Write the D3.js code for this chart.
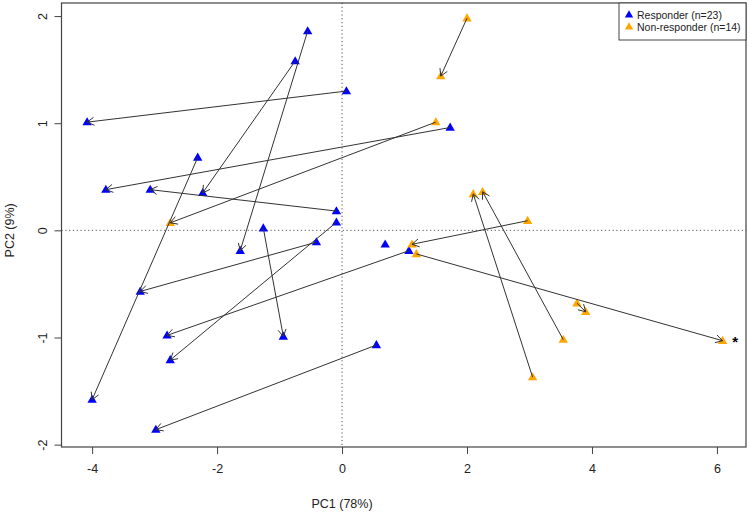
<!DOCTYPE html>
<html>
<head>
<meta charset="utf-8">
<script src="https://cdn.jsdelivr.net/npm/d3@7"></script>
<style>
  body { margin: 0; background: #fff; }
  svg { display: block; font-family: "Liberation Sans", Arial, sans-serif; }
</style>
</head>
<body>
<svg id="chart" width="750" height="514"></svg>
<script>
// Responder (n=23): arrows from first to second sample
const respFromX = [0.07, -0.55, -0.75, 1.73, -0.09, -2.31, -0.41, 1.07, -0.09, -1.26, 0.55];
const respFromY = [1.30, 1.86, 1.58, 0.96, 0.18, 0.68, -0.11, -0.19, 0.075, 0.02, -1.07];
const respToX   = [-4.08, -1.63, -2.23, -3.78, -3.07, -4.00, -3.23, -2.80, -2.75, -0.94, -2.98];
const respToY   = [1.01, -0.19, 0.35, 0.38, 0.38, -1.58, -0.57, -0.98, -1.21, -0.99, -1.86];
const respSingleX = [0.69];
const respSingleY = [-0.13];

// Non-responder (n=14)
const nonFromX = [2.00, 1.50, 2.97, 1.19, 3.05, 3.54, 3.76];
const nonFromY = [1.98, 1.01, 0.09, -0.22, -1.37, -1.02, -0.68];
const nonToX   = [1.58, -2.75, 1.12, 6.09, 2.10, 2.25, 3.90];
const nonToY   = [1.44, 0.07, -0.13, -1.03, 0.34, 0.36, -0.76];

// Marked sample
const starX = [6.29];
const starY = [-1.02];

const xTicks = [-4, -2, 0, 2, 4, 6];
const yTicks = [-2, -1, 0, 1, 2];
const legendLabels = ["Responder (n=23)", "Non-responder (n=14)"];
const colors = ["#0000ff", "#ffa500"];
const xTitle = "PC1 (78%)";
const yTitle = "PC2 (9%)";

const svg = d3.select("#chart");
const L = 61.5, R = 746, T = 3, B = 447;
const x = d3.scaleLinear().domain([-4.49, 6.465]).range([L, R]);
const y = d3.scaleLinear().domain([-2.022, 2.122]).range([B, T]);

// zero reference lines
const g = svg.append("g");
g.append("line").attr("x1", x(0)).attr("x2", x(0)).attr("y1", T).attr("y2", B)
  .attr("stroke", "#555").attr("stroke-dasharray", "1.2,2.6").attr("stroke-width", 1);
g.append("line").attr("x1", L).attr("x2", R).attr("y1", y(0)).attr("y2", y(0))
  .attr("stroke", "#555").attr("stroke-dasharray", "1.2,2.6").attr("stroke-width", 1);

// axes
const xAxis = d3.axisBottom(x).tickValues(xTicks).tickSize(7).tickPadding(10)
  .tickFormat(d => String(d));
const gx = svg.append("g").attr("transform", `translate(0,${B})`).call(xAxis);
gx.select(".domain").remove();
gx.selectAll("line").attr("stroke", "#444");
gx.selectAll("text").attr("font-size", 12.5).attr("fill", "#222")
  .attr("font-family", "Liberation Sans, Arial, sans-serif");

const yAxis = d3.axisLeft(y).tickValues(yTicks).tickSize(7).tickPadding(0)
  .tickFormat(d => String(d));
const gy = svg.append("g").attr("transform", `translate(${L},0)`).call(yAxis);
gy.select(".domain").remove();
gy.selectAll("line").attr("stroke", "#444");
gy.selectAll("text").attr("font-size", 12.5).attr("fill", "#222")
  .attr("font-family", "Liberation Sans, Arial, sans-serif")
  .attr("text-anchor", "middle")
  .attr("x", 0).attr("y", 0)
  .attr("transform", "translate(-19,0) rotate(-90)")
  .attr("dy", "0.35em");

// box
svg.append("rect").attr("x", L).attr("y", T).attr("width", R - L).attr("height", B - T)
  .attr("fill", "none").attr("stroke", "#444").attr("stroke-width", 1.2);

// titles
svg.append("text").attr("x", x(0)).attr("y", 508).attr("text-anchor", "middle")
  .attr("font-size", 12.5).attr("fill", "#222").text(xTitle);
svg.append("text").attr("transform", `translate(14,${y(0)}) rotate(-90)`)
  .attr("text-anchor", "middle").attr("font-size", 12.5).attr("fill", "#222").text(yTitle);

// points
const tri = d3.symbol().type(d3.symbolTriangle).size(38);
function drawPts(xs, ys, col) {
  svg.append("g").selectAll("path").data(xs.map((v, i) => [v, ys[i]])).join("path")
    .attr("d", tri)
    .attr("transform", d => `translate(${x(d[0])},${y(d[1]) + 0.5})`)
    .attr("fill", col);
}
drawPts(respFromX, respFromY, colors[0]);
drawPts(respToX, respToY, colors[0]);
drawPts(respSingleX, respSingleY, colors[0]);
drawPts(nonFromX, nonFromY, colors[1]);
drawPts(nonToX, nonToY, colors[1]);

// arrows
function drawArrows(fx, fy, tx, ty) {
  const ga = svg.append("g").attr("stroke", "#333").attr("stroke-width", 1).attr("fill", "none");
  fx.forEach((_, i) => {
    const x1 = x(fx[i]), y1 = y(fy[i]), x2 = x(tx[i]), y2 = y(ty[i]);
    ga.append("line").attr("x1", x1).attr("y1", y1).attr("x2", x2).attr("y2", y2);
    const a = Math.atan2(y1 - y2, x1 - x2);
    const len = 8, ang = Math.PI / 6;
    const p1 = [x2 + len * Math.cos(a + ang), y2 + len * Math.sin(a + ang)];
    const p2 = [x2 + len * Math.cos(a - ang), y2 + len * Math.sin(a - ang)];
    ga.append("path").attr("d", `M${p1[0]},${p1[1]}L${x2},${y2}L${p2[0]},${p2[1]}`);
  });
}
drawArrows(respFromX, respFromY, respToX, respToY);
drawArrows(nonFromX, nonFromY, nonToX, nonToY);

// star marker
svg.append("g").selectAll("text").data(starX.map((v, i) => [v, starY[i]])).join("text")
  .attr("x", d => x(d[0])).attr("y", d => y(d[1]) + 7)
  .attr("text-anchor", "middle").attr("font-size", 15).attr("font-weight", "bold")
  .attr("fill", "#000").text("*");

// legend
const lg = svg.append("g");
lg.append("rect").attr("x", 619).attr("y", T).attr("width", R - 619).attr("height", 37)
  .attr("fill", "#fff").attr("stroke", "#444").attr("stroke-width", 1);
legendLabels.forEach((lab, i) => {
  const cy = 15 + i * 12;
  lg.append("path").attr("d", d3.symbol().type(d3.symbolTriangle).size(30))
    .attr("transform", `translate(629,${cy})`).attr("fill", colors[i]);
  lg.append("text").attr("x", 637).attr("y", cy + 4).attr("font-size", 10.5)
    .attr("fill", "#222").text(lab);
});
</script>
</body>
</html>
